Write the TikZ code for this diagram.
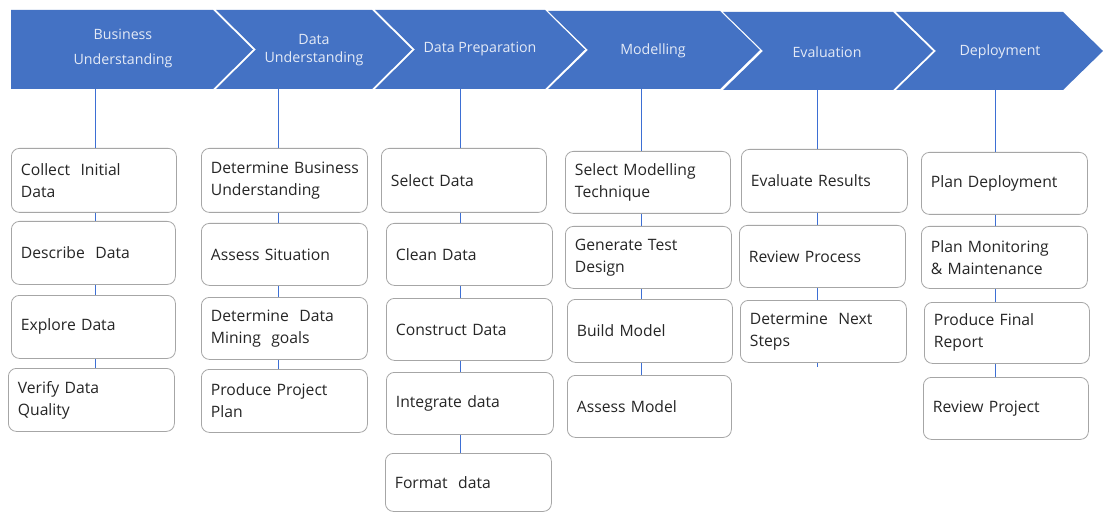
\documentclass[tikz,border=0pt]{standalone}
\usepackage{fontspec}
\setmainfont{Open Sans}
\definecolor{cblue}{HTML}{4472C4}
\definecolor{cline}{HTML}{3D6FD4}
\definecolor{chevtxt}{HTML}{E4EAF6}
\definecolor{boxgray}{HTML}{A6A6A6}
\definecolor{boxtxt}{HTML}{262626}
\newcommand\pbox[6]{%
  \pgfmathsetmacro\bw{#4-#2}\pgfmathsetmacro\bh{#5-#3}\pgfmathsetmacro\tw{#4-#2-19}%
  \node[box, minimum width=\bw pt, minimum height=\bh pt, text width=\tw pt] (#1) at (#2,#3) {#6};}
\begin{document}
\begin{tikzpicture}[x=1pt,y=-1pt,
  chev/.style={fill=cblue},
  chevtext/.style={text=chevtxt, font=\fontsize{14.2}{18}\selectfont, align=center, inner sep=0pt},
  box/.style={draw=boxgray, line width=0.8pt, rounded corners=8pt, fill=white, text=boxtxt,
    font=\fontsize{15.7}{22}\selectfont, align=left, inner xsep=9.5pt, inner ysep=0pt, anchor=north west},
  conn/.style={draw=cline, line width=1pt}]
\useasboundingbox (0,0) rectangle (1103,513);
\fill[white] (0,0) rectangle (1103,513);
% chevrons
\fill[chev] (11,10) -- (213,10) -- (253,49.5) -- (213,89) -- (11,89) -- cycle;
\fill[chev] (216,10) -- (372,10) -- (412,49.5) -- (372,89) -- (216,89) -- (256,49.5) -- cycle;
\fill[chev] (375,10) -- (545,10) -- (585,49.5) -- (545,89) -- (375,89) -- (415,49.5) -- cycle;
\fill[chev] (548,11) -- (720,11) -- (760,50) -- (720,89) -- (548,89) -- (588,50) -- cycle;
\fill[chev] (723,12) -- (893,12) -- (933,51) -- (893,90) -- (723,90) -- (763,51) -- cycle;
\fill[chev] (896,12) -- (1063,12) -- (1103,51) -- (1063,90) -- (896,90) -- (936,51) -- cycle;
\node[chevtext] (ch1) at (123,48.5) {Business\\[7pt]Understanding};
\node[chevtext] (ch2) at (314,50) {Data\\[0pt]Understanding};
\node[chevtext] (ch3) at (480,49) {Data Preparation};
\node[chevtext] (ch4) at (653,51) {Modelling};
\node[chevtext] (ch5) at (827,52) {Evaluation};
\node[chevtext] (ch6) at (1000,52) {Deployment};
\coordinate (cb1) at (95,89);
\coordinate (cb2) at (278,89);
\coordinate (cb3) at (460,89);
\coordinate (cb4) at (641,89);
\coordinate (cb5) at (817,90);
\coordinate (cb6) at (995,90);
% column 1
\pbox{a1}{11}{148}{176}{212}{Collect\ \ Initial\\Data}
\pbox{a2}{11}{221}{175}{284}{Describe\ \ Data}
\pbox{a3}{11}{295}{175}{358}{Explore Data}
\pbox{a4}{8}{368}{174}{431}{Verify Data\\Quality}
% column 2
\pbox{b1}{201}{148}{367}{212}{\mbox{Determine Business}\\Understanding}
\pbox{b2}{201}{223}{367}{285}{Assess Situation}
\pbox{b3}{201}{297}{367}{359}{Determine\ \ Data\\Mining\ \ goals}
\pbox{b4}{201}{369}{367}{432}{Produce Project\\Plan}
% column 3
\pbox{c1}{381}{148}{546}{212}{Select Data}
\pbox{c2}{386}{223}{552}{285}{Clean Data}
\pbox{c3}{386}{298}{552}{360}{Construct Data}
\pbox{c4}{386}{372}{553}{434}{Integrate data}
\pbox{c5}{385}{453}{551}{511}{Format\ \ data}
% column 4
\pbox{d1}{565}{151}{730}{213}{Select Modelling\\Technique}
\pbox{d2}{565}{226}{731}{288}{Generate Test\\Design}
\pbox{d3}{567}{299}{732}{362}{Build Model}
\pbox{d4}{567}{375}{731}{437}{Assess Model}
% column 5
\pbox{e1}{741}{149}{907}{212}{Evaluate Results}
\pbox{e2}{739}{225}{905}{287}{Review Process}
\pbox{e3}{740}{300}{906}{362}{Determine\ \ Next\\Steps}
\coordinate (e3end) at (817,367);
% column 6
\pbox{f1}{921}{152}{1087}{214}{Plan Deployment}
\pbox{f2}{921}{226}{1087}{288}{Plan Monitoring\\\& Maintenance}
\pbox{f3}{924}{302}{1089}{363}{Produce Final\\Report}
\pbox{f4}{923}{377}{1088}{439}{Review Project}
% connectors
\draw[conn] (cb1) -- (cb1 |- a1.north);
\draw[conn] (cb1 |- a1.south) -- (cb1 |- a2.north);
\draw[conn] (cb1 |- a2.south) -- (cb1 |- a3.north);
\draw[conn] (cb1 |- a3.south) -- (cb1 |- a4.north);
\draw[conn] (cb2) -- (cb2 |- b1.north);
\draw[conn] (cb2 |- b1.south) -- (cb2 |- b2.north);
\draw[conn] (cb2 |- b2.south) -- (cb2 |- b3.north);
\draw[conn] (cb2 |- b3.south) -- (cb2 |- b4.north);
\draw[conn] (cb3) -- (cb3 |- c1.north);
\draw[conn] (cb3 |- c1.south) -- (cb3 |- c2.north);
\draw[conn] (cb3 |- c2.south) -- (cb3 |- c3.north);
\draw[conn] (cb3 |- c3.south) -- (cb3 |- c4.north);
\draw[conn] (cb3 |- c4.south) -- (cb3 |- c5.north);
\draw[conn] (cb4) -- (cb4 |- d1.north);
\draw[conn] (cb4 |- d1.south) -- (cb4 |- d2.north);
\draw[conn] (cb4 |- d2.south) -- (cb4 |- d3.north);
\draw[conn] (cb4 |- d3.south) -- (cb4 |- d4.north);
\draw[conn] (cb5) -- (cb5 |- e1.north);
\draw[conn] (cb5 |- e1.south) -- (cb5 |- e2.north);
\draw[conn] (cb5 |- e2.south) -- (cb5 |- e3.north);
\draw[conn] (cb5 |- e3.south) -- (e3end);
\draw[conn] (cb6) -- (cb6 |- f1.north);
\draw[conn] (cb6 |- f1.south) -- (cb6 |- f2.north);
\draw[conn] (cb6 |- f2.south) -- (cb6 |- f3.north);
\draw[conn] (cb6 |- f3.south) -- (cb6 |- f4.north);
\end{tikzpicture}
\end{document}
